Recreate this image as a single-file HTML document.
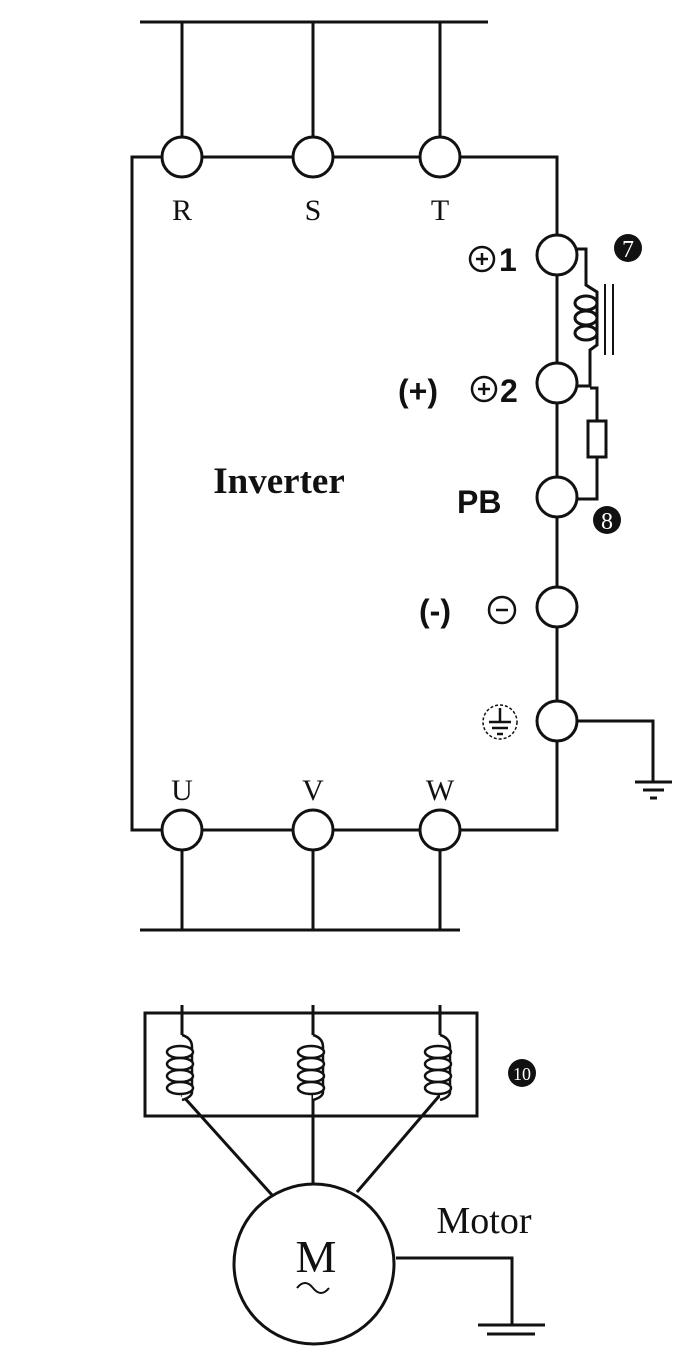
<!DOCTYPE html>
<html><head><style>html,body{margin:0;padding:0;background:#fff;}</style></head>
<body>
<svg width="690" height="1350" viewBox="0 0 690 1350" xmlns="http://www.w3.org/2000/svg">
<g stroke="#111" stroke-width="3" fill="none">
<line x1="140" y1="22" x2="488" y2="22"/>
<line x1="182" y1="22" x2="182" y2="137"/>
<line x1="313" y1="22" x2="313" y2="137"/>
<line x1="440" y1="22" x2="440" y2="137"/>
<polyline points="162,157 132,157 132,830 162,830"/>
<line x1="202" y1="157" x2="293" y2="157"/>
<line x1="333" y1="157" x2="420" y2="157"/>
<polyline points="460,157 557,157 557,235"/>
<line x1="557" y1="275" x2="557" y2="363"/>
<line x1="557" y1="403" x2="557" y2="477"/>
<line x1="557" y1="517" x2="557" y2="587"/>
<line x1="557" y1="627" x2="557" y2="701"/>
<polyline points="557,741 557,830 460,830"/>
<line x1="202" y1="830" x2="293" y2="830"/>
<line x1="333" y1="830" x2="420" y2="830"/>
<line x1="182" y1="850" x2="182" y2="930"/>
<line x1="313" y1="850" x2="313" y2="930"/>
<line x1="440" y1="850" x2="440" y2="930"/>
<line x1="140" y1="930" x2="460" y2="930"/>
<circle cx="182" cy="157" r="20" fill="#fff"/>
<circle cx="313" cy="157" r="20" fill="#fff"/>
<circle cx="440" cy="157" r="20" fill="#fff"/>
<circle cx="557" cy="255" r="20" fill="#fff"/>
<circle cx="557" cy="383" r="20" fill="#fff"/>
<circle cx="557" cy="497" r="20" fill="#fff"/>
<circle cx="557" cy="607" r="20" fill="#fff"/>
<circle cx="557" cy="721" r="20" fill="#fff"/>
<circle cx="182" cy="830" r="20" fill="#fff"/>
<circle cx="313" cy="830" r="20" fill="#fff"/>
<circle cx="440" cy="830" r="20" fill="#fff"/>
<!-- reactor -->
<polyline points="577,249 586,249 586,285 597,292 597,345 590,350 590,386 577,386"/>
<ellipse cx="586" cy="303" rx="11" ry="7"/>
<ellipse cx="586" cy="318" rx="11" ry="7"/>
<ellipse cx="586" cy="333" rx="11" ry="7"/>
<line x1="605" y1="284" x2="605" y2="355" stroke-width="2"/>
<line x1="613" y1="284" x2="613" y2="355" stroke-width="2"/>
<!-- resistor -->
<polyline points="590,388 597,388 597,420"/>
<rect x="588" y="421" width="18" height="36"/>
<polyline points="597,457 597,499 577,499"/>
<!-- ground -->
<polyline points="577,721 653,721 653,782"/>
<line x1="635" y1="782" x2="672" y2="782"/>
<line x1="643" y1="790" x2="664" y2="790"/>
<line x1="650" y1="798" x2="657" y2="798"/>
<!-- motor -->
<rect x="145" y="1013" width="332" height="103"/>
<line x1="182" y1="1005" x2="182" y2="1035"/>
<line x1="313" y1="1005" x2="313" y2="1035"/>
<line x1="440" y1="1005" x2="440" y2="1035"/>
<line x1="182" y1="1095" x2="272" y2="1195"/>
<line x1="313" y1="1095" x2="313" y2="1184"/>
<line x1="440" y1="1095" x2="357" y2="1192"/>
<circle cx="314" cy="1264" r="80"/>
<polyline points="396,1258 512,1258 512,1325"/>
<line x1="478" y1="1325" x2="545" y2="1325"/>
<line x1="487" y1="1334" x2="535" y2="1334"/>
</g>
<g stroke="#111" stroke-width="2.5" fill="#fff">
<g id="c1"><path d="M182,1035 q10,3 10,12 v45 q0,5 -10,8"/>
<ellipse cx="180" cy="1052" rx="13" ry="6"/><ellipse cx="180" cy="1064" rx="13" ry="6"/><ellipse cx="180" cy="1076" rx="13" ry="6"/><ellipse cx="180" cy="1088" rx="13" ry="6"/></g>
<use href="#c1" x="131"/>
<use href="#c1" x="258"/>
</g>
<!-- numbered markers -->
<circle cx="628" cy="248" r="14" fill="#111"/>
<text x="628" y="257" font-family="Liberation Serif, serif" font-size="24" fill="#fff" text-anchor="middle">7</text>
<circle cx="607" cy="520" r="14" fill="#111"/>
<text x="607" y="529" font-family="Liberation Serif, serif" font-size="24" fill="#fff" text-anchor="middle">8</text>
<circle cx="522" cy="1073" r="14" fill="#111"/>
<text x="522" y="1080" font-family="Liberation Serif, serif" font-size="18" fill="#fff" text-anchor="middle">10</text>
<g font-family="Liberation Serif, serif" fill="#111" text-anchor="middle" font-size="30">
<text x="182" y="220">R</text><text x="313" y="220">S</text><text x="440" y="220">T</text>
<text x="182" y="800">U</text><text x="313" y="800">V</text><text x="440" y="800">W</text>
<text x="279" y="493" font-size="37" font-weight="bold">Inverter</text>
<text x="484" y="1233" font-size="38">Motor</text>
<text x="316" y="1272" font-size="46">M</text>
</g>
<path d="M297,1288 q8,-10 16,0 t16,0" stroke="#111" stroke-width="2" fill="none"/>
<g font-family="Liberation Sans, sans-serif" fill="#111" font-size="32" font-weight="bold">
<text x="499" y="271">1</text>
<text x="398" y="402">(+)</text>
<text x="500" y="402">2</text>
<text x="457" y="513">PB</text>
<text x="419" y="622">(-)</text>
</g>
<g stroke="#111" stroke-width="2.5" fill="none">
<circle cx="482" cy="259" r="12"/><line x1="476" y1="259" x2="488" y2="259"/><line x1="482" y1="253" x2="482" y2="265"/>
<circle cx="484" cy="389" r="12"/><line x1="478" y1="389" x2="490" y2="389"/><line x1="484" y1="383" x2="484" y2="395"/>
<circle cx="502" cy="610" r="13"/><line x1="496" y1="610" x2="508" y2="610"/>
<circle cx="500" cy="722" r="17" stroke-dasharray="3,2" stroke-width="1.5"/>
<line x1="500" y1="708" x2="500" y2="722"/><line x1="489" y1="722" x2="511" y2="722"/><line x1="492" y1="728" x2="508" y2="728"/><line x1="497" y1="734" x2="503" y2="734"/>
</g>
</svg>
</body></html>
